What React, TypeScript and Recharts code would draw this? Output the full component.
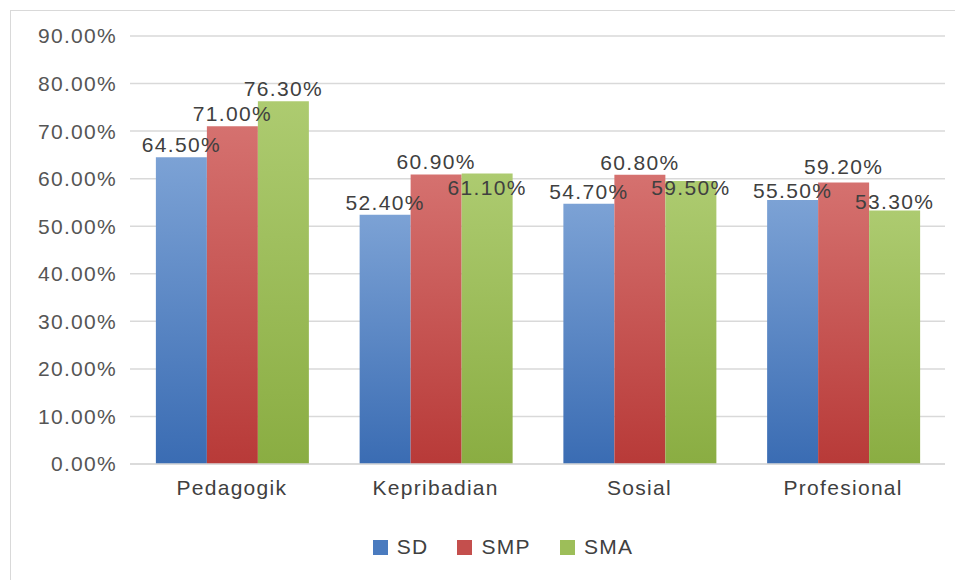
import { Bar, BarChart, CartesianGrid, LabelList, Legend, XAxis, YAxis } from "recharts";

const categories = ["Pedagogik", "Kepribadian", "Sosial", "Profesional"];
const sd = [64.5, 52.4, 54.7, 55.5];
const smp = [71.0, 60.9, 60.8, 59.2];
const sma = [76.3, 61.1, 59.5, 53.3];
const yTicks = [0, 10, 20, 30, 40, 50, 60, 70, 80, 90];

const data = categories.map((name, i) => ({ name, SD: sd[i], SMP: smp[i], SMA: sma[i] }));

const FONT = '"Liberation Sans", Arial, sans-serif';
const pct = (v: number) => `${Number(v).toFixed(2)}%`;

const series = [
  { key: "SD", top: "#7ca2d5", bottom: "#3a6cb3", icon: "#4a7bbf" },
  { key: "SMP", top: "#d5716f", bottom: "#b83a38", icon: "#c44f4d" },
  { key: "SMA", top: "#adcb70", bottom: "#8aad42", icon: "#9dbe59" },
];

// Excel nudged a couple of labels down to dodge neighbours
const labelNudge: Record<string, number[]> = {
  SD: [0, 0, 0, 3],
  SMP: [0, 0, 0, -3],
  SMA: [0, 27, 19, 3],
};

const makeLabel = (key: string) => (p: any) => {
  const dy = labelNudge[key][p.index] ?? 0;
  return (
    <text
      x={p.x + p.width / 2}
      y={p.y - 5 + dy}
      textAnchor="middle"
      fill="#404040"
      fontSize={21}
      letterSpacing={1.3}
    >
      {pct(p.value)}
    </text>
  );
};

const renderLegend = () => (
  <div style={{ display: "flex", justifyContent: "center", paddingLeft: 90, fontSize: 21, letterSpacing: 1.3, color: "#404040" }}>
    {series.map((s) => (
      <div key={s.key} style={{ display: "flex", alignItems: "center", marginRight: 29 }}>
        <span style={{ width: 15, height: 15, background: s.icon, marginRight: 9, display: "inline-block" }} />
        <span>{s.key}</span>
      </div>
    ))}
  </div>
);

export default function App() {
  return (
    <div style={{ position: "absolute", left: 0, top: 0, width: 955, height: 580, overflow: "hidden", background: "#fff" }}>
      <div
        style={{
          position: "absolute",
          left: 10,
          top: 10,
          width: 960,
          height: 600,
          border: "1px solid #d9d9d9",
        }}
      />
      <div style={{ position: "absolute", left: 0, top: 0 }}>
        <BarChart
          width={955}
          height={580}
          data={data}
          margin={{ top: 36, right: 10, left: 0, bottom: 0 }}
          barCategoryGap="12.7%"
          barGap={0}
          style={{ fontFamily: FONT }}
        >
          <defs>
            {series.map((s) => (
              <linearGradient key={s.key} id={`g${s.key}`} x1="0" y1="0" x2="0" y2="1">
                <stop offset="0%" stopColor={s.top} />
                <stop offset="100%" stopColor={s.bottom} />
              </linearGradient>
            ))}
          </defs>
          <CartesianGrid vertical={false} stroke="#d9d9d9" strokeWidth={1.5} />
          <XAxis
            dataKey="name"
            height={92}
            tickLine={false}
            tickSize={0}
            tickMargin={16}
            axisLine={{ stroke: "#d9d9d9", strokeWidth: 1.5 }}
            tick={{ fill: "#404040", fontSize: 21, letterSpacing: 1.3 }}
          />
          <YAxis
            width={130}
            domain={[0, 90]}
            ticks={yTicks}
            tickFormatter={pct}
            axisLine={false}
            tickLine={false}
            tickSize={0}
            tickMargin={13}
            tick={{ fill: "#555555", fontSize: 21, letterSpacing: 1.3 }}
          />
          <Legend verticalAlign="bottom" wrapperStyle={{ bottom: 21 }} content={renderLegend} />
          {series.map((s) => (
            <Bar key={s.key} dataKey={s.key} fill={`url(#g${s.key})`} isAnimationActive={false}>
              <LabelList dataKey={s.key} content={makeLabel(s.key)} />
            </Bar>
          ))}
        </BarChart>
      </div>
    </div>
  );
}
